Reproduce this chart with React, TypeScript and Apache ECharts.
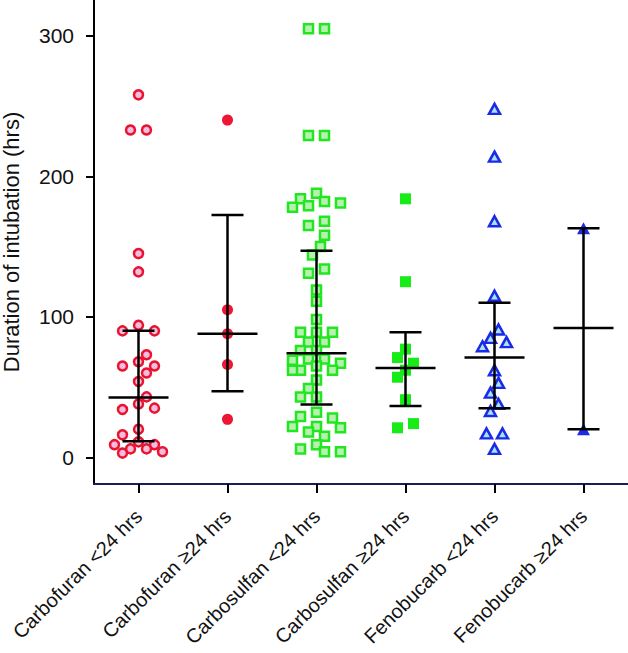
import { useEffect, useRef } from "react";
import * as echarts from "echarts";

const categories = [
  "Carbofuran <24 hrs",
  "Carbofuran ≥24 hrs",
  "Carbosulfan <24 hrs",
  "Carbosulfan ≥24 hrs",
  "Fenobucarb <24 hrs",
  "Fenobucarb ≥24 hrs",
];

const carbofuranLt24 = [258, 233, 233, 145, 132, 94, 90, 90, 73, 68, 65, 65, 60, 54, 43, 38, 35, 34, 20, 16, 11, 9, 9, 6, 6, 4, 3];
const carbofuranGe24 = [240, 105, 88, 66, 27];
const carbosulfanLt24 = [
  305, 305, 229, 229, 188, 184, 182, 181, 179, 178, 168, 165, 158, 150, 144, 134, 131, 119, 111, 98,
  89, 89, 89, 82, 82, 76, 76, 70, 70, 69, 67, 65, 62, 62, 62, 55, 49, 43, 43, 32, 29, 28, 22, 22, 21,
  18, 15, 9, 6, 4, 4,
];
const carbosulfanGe24 = [184, 125, 77, 71, 67, 62, 57, 41, 24, 21];
const fenobucarbLt24 = [248, 214, 168, 115, 91, 85, 82, 79, 62, 53, 46, 38, 33, 17, 17, 6];
const fenobucarbGe24 = [163, 20];

const medians = [42.5, 88, 74, 63.5, 71, 92];
const q1 = [11.5, 47, 37.5, 36.5, 35, 20];
const q3 = [90, 172.5, 147, 89, 110, 163];

const yTicks = [0, 100, 200, 300];

const FONT = "'Liberation Sans', Arial, Helvetica, sans-serif";

function swarm(values: number[], yPx: (v: number) => number, D = 10, step = 8, maxOff = 24): number[] {
  const order = values.map((v, i) => i).sort((a, b) => values[b] - values[a]);
  const offs: number[] = new Array(values.length).fill(0);
  const ys = values.map((v) => yPx(v));
  const placed: number[] = [];
  const cands: number[] = [0];
  for (let k = step; k <= maxOff; k += step) cands.push(-k, k);
  for (const i of order) {
    let best = 0;
    let bestCol = Infinity;
    for (const c of cands) {
      let col = 0;
      for (const j of placed) {
        const dx = c - offs[j];
        const dy = ys[i] - ys[j];
        const d = Math.sqrt(dx * dx + dy * dy);
        if (d < D) col += D - d;
      }
      if (col < bestCol - 1e-9) {
        bestCol = col;
        best = c;
      }
      if (col === 0) break;
    }
    offs[i] = best;
    placed.push(i);
  }
  // center each vertically-connected cluster
  let start = 0;
  while (start < order.length) {
    let end = start;
    while (end + 1 < order.length && Math.abs(ys[order[end + 1]] - ys[order[end]]) < D) end++;
    const members = order.slice(start, end + 1);
    const mn = Math.min(...members.map((m) => offs[m]));
    const mx = Math.max(...members.map((m) => offs[m]));
    const s = -(mn + mx) / 2;
    for (const m of members) offs[m] += s;
    start = end + 1;
  }
  return offs;
}

export default function App() {
  const ref = useRef<HTMLDivElement>(null);
  useEffect(() => {
    const chart = echarts.init(ref.current!, null, { renderer: "svg" });
    const groups = [
      { values: carbofuranLt24, symbol: "circle", size: 9, color: "#f4bde0", border: "#e8132f", bw: 2.5 },
      { values: carbofuranGe24, symbol: "circle", size: 11, color: "#ec1732", border: "#ec1732", bw: 0 },
      { values: carbosulfanLt24, symbol: "rect", size: 9, color: "#b8f0b0", border: "#22e622", bw: 2.5 },
      { values: carbosulfanGe24, symbol: "rect", size: 11, color: "#18ec18", border: "#18ec18", bw: 0 },
      { values: fenobucarbLt24, symbol: "triangle", size: [11, 10], color: "#a4e2fa", border: "#1c2ae6", bw: 2.5 },
      { values: fenobucarbGe24, symbol: "triangle", size: [13, 12], color: "#1c2ae6", border: "#1c2ae6", bw: 0 },
    ];
    const base: any = {
      animation: false,
      backgroundColor: "#ffffff",
      grid: { left: 94, right: 0, top: 0, bottom: 169, containLabel: false, outerBoundsMode: "none" },
      xAxis: [
        {
          type: "category",
          data: categories,
          position: "bottom",
          axisLine: { show: true, onZero: false, lineStyle: { color: "#1c1c5a", width: 2 } },
          axisTick: { show: true, inside: false, alignWithLabel: true, length: 9, lineStyle: { color: "#000", width: 2 } },
          axisLabel: { rotate: 45, fontSize: 20, color: "#111", fontFamily: FONT, margin: 29, interval: 0 },
          splitLine: { show: false },
        },
        { type: "value", min: -0.5, max: 5.5, show: false },
      ],
      yAxis: {
        type: "value",
        min: -19,
        max: 325.5,
        name: "Duration of intubation (hrs)",
        nameLocation: "middle",
        nameGap: 72,
        nameTextStyle: { fontSize: 22, color: "#111", fontFamily: FONT },
        axisLine: { show: true, onZero: false, lineStyle: { color: "#000", width: 2 } },
        axisTick: { show: true, length: 8, lineStyle: { color: "#000", width: 2 }, customValues: yTicks },
        axisLabel: { fontSize: 21, color: "#111", fontFamily: FONT, margin: 20, customValues: yTicks },
        splitLine: { show: false },
      },
      series: [],
    };
    chart.setOption(base);
    const p0 = chart.convertToPixel({ xAxisIndex: 1 }, 0) as number;
    const p1 = chart.convertToPixel({ xAxisIndex: 1 }, 1) as number;
    const pxPerX = p1 - p0 || 89;
    const yPx = (v: number) => chart.convertToPixel({ yAxisIndex: 0 }, v) as number;

    const series: any[] = groups.map((g, i) => {
      const offs = swarm(g.values, yPx);
      return {
        type: "scatter",
        xAxisIndex: 1,
        yAxisIndex: 0,
        symbol: g.symbol,
        symbolSize: g.size,
        itemStyle: { color: g.color, borderColor: g.border, borderWidth: g.bw, opacity: 1 },
        data: g.values.map((v, k) => [i + offs[k] / pxPerX, v]),
        z: 2,
      };
    });
    series.push({
      type: "custom",
      xAxisIndex: 1,
      yAxisIndex: 0,
      z: 10,
      data: categories.map((c, i) => [i, medians[i], q1[i], q3[i]]),
      encode: { x: 0, y: [1, 2, 3] },
      renderItem: (params: any, api: any) => {
        const x = api.value(0);
        const m = api.coord([x, api.value(1)]);
        const lo = api.coord([x, api.value(2)]);
        const hi = api.coord([x, api.value(3)]);
        const style = { stroke: "#000", lineWidth: 2.5 };
        return {
          type: "group",
          children: [
            { type: "line", shape: { x1: lo[0], y1: lo[1], x2: hi[0], y2: hi[1] }, style },
            { type: "line", shape: { x1: m[0] - 30, y1: m[1], x2: m[0] + 30, y2: m[1] }, style },
            { type: "line", shape: { x1: lo[0] - 16, y1: lo[1], x2: lo[0] + 16, y2: lo[1] }, style },
            { type: "line", shape: { x1: hi[0] - 16, y1: hi[1], x2: hi[0] + 16, y2: hi[1] }, style },
          ],
        };
      },
    });
    chart.setOption({ series });
    return () => chart.dispose();
  }, []);
  return <div ref={ref} style={{ position: "fixed", left: 0, top: 0, width: 628, height: 653, background: "#fff" }} />;
}
